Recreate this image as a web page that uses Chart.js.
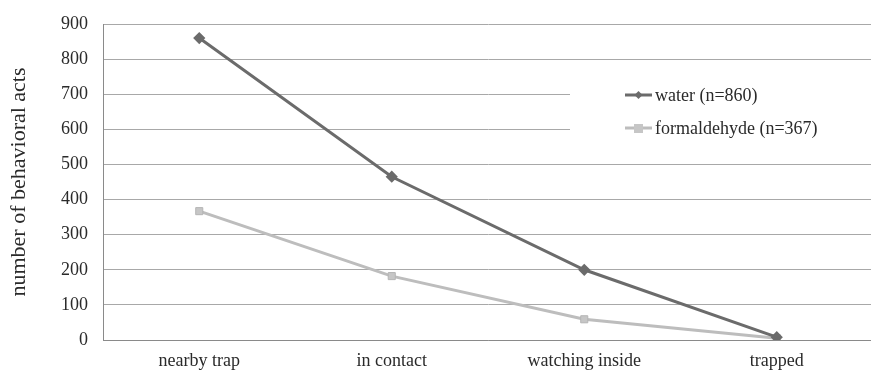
<!DOCTYPE html>
<html>
<head>
<meta charset="utf-8">
<script src="https://cdn.jsdelivr.net/npm/chart.js@4.4.1/dist/chart.umd.min.js"></script>
<style>
html,body{margin:0;padding:0;background:#fff;overflow:hidden;}
#wrap{position:relative;width:880px;height:373px;}
canvas{display:block;}
</style>
</head>
<body>
<div id="wrap"><canvas id="c" width="880" height="373" style="width:880px;height:373px;"></canvas></div>
<script>
const categories = ["nearby trap", "in contact", "watching inside", "trapped"];
const waterValues = [860, 465, 200, 8];
const formaldehydeValues = [367, 182, 59, 5];
const seriesLabels = ["water (n=860)", "formaldehyde (n=367)"];
const yTicks = [0, 100, 200, 300, 400, 500, 600, 700, 800, 900];
const yTitle = "number of behavioral acts";

const FONT = "'Liberation Serif', 'Times New Roman', serif";
const TEXT = '#2a2a2a';

const insideLegend = {
  id: 'insideLegend',
  afterDatasetsDraw(chart) {
    const ctx = chart.ctx;
    const x0 = 570, y0 = 76;
    ctx.save();
    ctx.fillStyle = '#ffffff';
    ctx.fillRect(x0, y0, 310, 70);
    ctx.font = "18px " + FONT;
    ctx.textBaseline = 'middle';
    chart.data.datasets.forEach((ds, i) => {
      const y = 95 + i * 33;
      ctx.strokeStyle = ds.borderColor;
      ctx.lineWidth = 3;
      ctx.beginPath();
      ctx.moveTo(625, y);
      ctx.lineTo(652, y);
      ctx.stroke();
      ctx.fillStyle = ds.pointBackgroundColor;
      if (i === 0) {
        ctx.beginPath();
        ctx.moveTo(638.5, y - 4);
        ctx.lineTo(642.5, y);
        ctx.lineTo(638.5, y + 4);
        ctx.lineTo(634.5, y);
        ctx.closePath();
        ctx.fill();
      } else {
        ctx.fillRect(634, y - 4, 9, 9);
      }
      ctx.fillStyle = TEXT;
      ctx.fillText(ds.label, 655, y + 1);
    });
    ctx.restore();
  }
};

new Chart(document.getElementById('c'), {
  type: 'line',
  data: {
    labels: categories,
    datasets: [
      {
        label: seriesLabels[0],
        data: waterValues,
        borderColor: '#6b6b6b',
        backgroundColor: '#6b6b6b',
        pointBackgroundColor: '#6b6b6b',
        pointBorderColor: '#6b6b6b',
        pointStyle: 'rectRot',
        pointRadius: 4,
        borderWidth: 3,
        tension: 0
      },
      {
        label: seriesLabels[1],
        data: formaldehydeValues,
        borderColor: '#bdbdbd',
        backgroundColor: '#c6c6c6',
        pointBackgroundColor: '#c6c6c6',
        pointBorderColor: '#b5b5b5',
        pointBorderWidth: 1,
        pointStyle: 'rect',
        pointRadius: 5,
        borderWidth: 3,
        tension: 0
      }
    ]
  },
  plugins: [insideLegend],
  options: {
    responsive: false,
    animation: false,
    devicePixelRatio: 1,
    layout: { padding: { top: 22, right: 0, bottom: 0, left: 0 } },
    plugins: { legend: { display: false }, tooltip: { enabled: false } },
    scales: {
      x: {
        offset: true,
        grid: { display: false, drawTicks: false },
        border: { display: true, color: '#8a8a8a', width: 1 },
        ticks: { color: TEXT, font: { family: FONT, size: 18, lineHeight: 1 }, padding: 12, maxRotation: 0, autoSkip: false },
        afterFit(scale) { scale.height = 33; }
      },
      y: {
        min: 0, max: 900,
        afterBuildTicks(scale) { scale.ticks = yTicks.map(v => ({ value: v })); },
        grid: { color: '#a8a8a8', drawTicks: false, lineWidth: 1 },
        border: { display: true, color: '#8a8a8a', width: 1 },
        ticks: { color: TEXT, font: { family: FONT, size: 18, lineHeight: 1 }, padding: 15, autoSkip: false },
        title: { display: true, text: yTitle, color: TEXT, font: { family: FONT, size: 22 }, padding: { top: 6, bottom: 0 } },
        afterFit(scale) { scale.width = 103; }
      }
    }
  }
});
</script>
</body>
</html>
